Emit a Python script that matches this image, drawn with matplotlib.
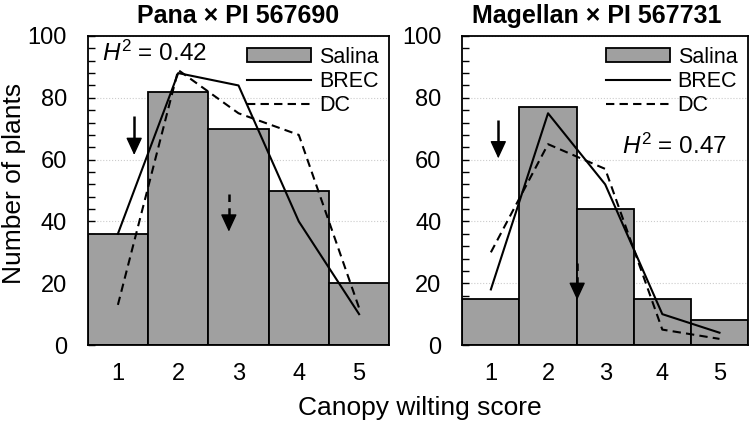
import matplotlib
matplotlib.use("Agg")
import matplotlib.pyplot as plt
import matplotlib.ticker as mticker
import matplotlib.transforms as mtransforms
from matplotlib.patches import Patch
from matplotlib.lines import Line2D

# ── data ──────────────────────────────────────────────
scores = [1, 2, 3, 4, 5]

pana_salina = [36, 82, 70, 50, 20]
pana_brec = [36, 88, 84, 40, 10]
pana_dc = [13, 89, 75, 68, 12]

mag_salina = [15, 77, 44, 15, 8]
mag_brec = [18, 75, 52, 10, 4]
mag_dc = [30, 65, 57, 5, 2]

titles = ["Pana \u00d7 PI 567690", "Magellan \u00d7 PI 567731"]
h2_labels = [r"$H^2$ = 0.42", r"$H^2$ = 0.47"]

# arrows: (x, top, tip, dashed?)
pana_arrows = [(1.27, 74, 61.5, False), (2.84, 49, 36.7, True)]
mag_arrows = [(1.13, 72.8, 60.4, False), (2.51, 26.5, 14.6, True)]

# ── style ─────────────────────────────────────────────
plt.rcParams.update({
    "font.family": ["Liberation Sans", "DejaVu Sans"],
    "mathtext.fontset": "custom",
    "mathtext.rm": "Liberation Sans",
    "mathtext.it": "Liberation Sans:italic",
    "font.size": 16,
})

BAR = "#a0a0a0"
DASH = (0, (4, 2.5))

fig = plt.figure(figsize=(7.5, 4.26), dpi=100)
ax1 = fig.add_axes([0.117, 0.190, 0.402, 0.7255])
ax2 = fig.add_axes([0.6164, 0.190, 0.381, 0.7255])

panels = [
    (ax1, pana_salina, pana_brec, pana_dc, pana_arrows, (0.046, 94.5), 0.5),
    (ax2, mag_salina, mag_brec, mag_dc, mag_arrows, (0.558, 64.2), 0.47),
]

for i, (ax, sal, brec, dc, arrows, h2pos, tx) in enumerate(panels):
    ax.bar(scores, sal, width=1.0, color=BAR, edgecolor="black", linewidth=1.3, zorder=2)
    ax.plot(scores, brec, color="black", lw=1.5, zorder=3)
    ax.plot(scores, dc, color="black", lw=1.5, linestyle=DASH, zorder=3)

    # 箭头：杆 + 三角头
    for x, top, tip, dashed in arrows:
        base = tip + 4.8
        ax.plot([x, x], [top, base + 0.5], color="black", lw=1.8,
                linestyle=(0, (3, 2.5)) if dashed else "-", zorder=4,
                solid_capstyle="butt")
        ax.annotate("", xy=(x, tip), xytext=(x, base),
                    arrowprops=dict(arrowstyle="-|>,head_length=1.08,head_width=0.5",
                                    mutation_scale=10, color="black", lw=1.0,
                                    shrinkA=0, shrinkB=0),
                    zorder=4)

    ax.set_xlim(0.5, 5.5)
    ax.set_ylim(0, 100)
    ax.yaxis.set_major_locator(mticker.MultipleLocator(20))
    ax.yaxis.set_minor_locator(mticker.MultipleLocator(4))
    ax.set_xticks(scores)
    ax.tick_params(axis="y", which="both", direction="in", length=5, width=1.0,
                   pad=15, labelsize=17, right=False)
    ax.tick_params(axis="x", length=0, pad=13, labelsize=17)
    ax.grid(axis="y", which="major", color="#cccccc", linestyle=":", linewidth=0.8, zorder=0)
    ax.set_axisbelow(True)
    for s in ax.spines.values():
        s.set_linewidth(1.3)

    ax.set_title(titles[i], fontsize=18, fontweight="bold", pad=9.5, x=tx)

    trans = mtransforms.blended_transform_factory(ax.transAxes, ax.transData)
    ax.text(h2pos[0], h2pos[1], h2_labels[i], transform=trans,
            fontsize=17.5, ha="left", va="center")

    handles = [
        Patch(facecolor=BAR, edgecolor="black", linewidth=1.3, label="Salina"),
        Line2D([0], [0], color="black", lw=1.5, label="BREC"),
        Line2D([0], [0], color="black", lw=1.5, linestyle=DASH, label="DC"),
    ]
    ax.legend(handles=handles, loc="upper right", frameon=False, fontsize=15.5,
              handlelength=3.0, handleheight=0.6, handletextpad=0.35,
              labelspacing=0.15, borderaxespad=0.3, borderpad=0.2)

fig.text(14.5 / 750, 1 - 183 / 426, "Number of plants", rotation=90,
         ha="center", va="center", fontsize=19)
fig.text(420 / 750, 1 - 415 / 426, "Canopy wilting score", ha="center",
         va="baseline", fontsize=19)

plt.savefig("out.png", dpi=100)
plt.close()
